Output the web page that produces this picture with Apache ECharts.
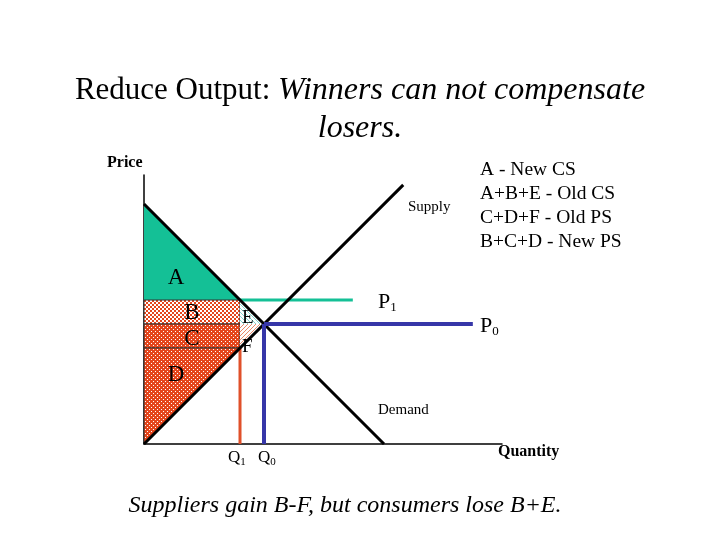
<!DOCTYPE html>
<html>
<head>
<meta charset="utf-8">
<script src="https://cdn.jsdelivr.net/npm/echarts@6/dist/echarts.min.js"></script>
<style>
  html, body { margin: 0; padding: 0; background: #fff; }
  #chart { width: 720px; height: 540px; }
</style>
</head>
<body>
<div id="chart"></div>
<script>
// price / quantity values of the diagram (P = 20 - Q demand, P = Q supply)
const demandLine = [[0, 20], [20, 0]]
const supplyLine = [[0, 0], [21.6, 21.6]]
const p1Line = [[8, 12], [17.4, 12]]
const p0Line = [[10, 10], [27.4, 10]]
const q1Line = [[8, 0], [8, 8]]
const q0Line = [[10, 0], [10, 10]]

// surplus areas
const areaA = [[0, 20], [0, 12], [8, 12]]
const areaB = [[0, 12], [8, 12], [8, 10], [0, 10]]
const areaC = [[0, 10], [8, 10], [8, 8], [0, 8]]
const areaD = [[0, 8], [8, 8], [0, 0]]
const areaE = [[8, 12], [10, 10], [8, 10]]
const areaF = [[8, 10], [10, 10], [8, 8]]

const legendLines = ['A - New CS', 'A+B+E - Old CS', 'C+D+F - Old PS', 'B+C+D - New PS']

const SERIF = '"Liberation Serif", "DejaVu Serif", serif'
const RED = '#e4461c'
const TEAL = '#14c096'
const BLUE = '#3636a8'

function pattern (size, bg, fg, cells) {
  const c = document.createElement('canvas')
  c.width = size
  c.height = size
  const ctx = c.getContext('2d')
  ctx.fillStyle = bg
  ctx.fillRect(0, 0, size, size)
  ctx.fillStyle = fg
  cells.forEach(r => ctx.fillRect(r[0], r[1], r[2], r[3]))
  return { image: c, repeat: 'repeat' }
}

const fillB = pattern(4, '#ffffff', RED, [[0, 0, 2, 2], [2, 2, 2, 2]])
const fillCD = pattern(4, RED, '#ffffff', [[1, 1, 1, 1], [3, 3, 1, 1]])
const fillE = pattern(4, '#ffffff', '#7fd8d0', [[0, 0, 1, 1], [1, 1, 1, 1], [2, 2, 1, 1], [3, 3, 1, 1]])
const fillF = pattern(4, '#ffffff', '#e88a6a', [[3, 0, 1, 1], [2, 1, 1, 1], [1, 2, 1, 1], [0, 3, 1, 1]])

const areas = [
  { pts: areaA, fill: TEAL, stroke: null },
  { pts: areaB, fill: fillB, stroke: '#333' },
  { pts: areaC, fill: fillCD, stroke: '#333' },
  { pts: areaD, fill: fillCD, stroke: '#333' },
  { pts: areaE, fill: fillE, stroke: null },
  { pts: areaF, fill: fillF, stroke: null }
]

function lineSeries (data, color, width) {
  return {
    type: 'line',
    data: data,
    showSymbol: false,
    silent: true,
    lineStyle: { color: color, width: width }
  }
}

function txt (x, y, text, size, extra) {
  return {
    type: 'text',
    x: x,
    y: y,
    z: 100,
    style: Object.assign({
      text: text,
      fontFamily: SERIF,
      fontSize: size,
      fill: '#000',
      verticalAlign: 'middle'
    }, extra || {})
  }
}

function sub (main, idx, size, subSize) {
  return {
    text: `{m|${main}}{s|${idx}}`,
    rich: {
      m: { fontFamily: SERIF, fontSize: size, fill: '#000' },
      s: { fontFamily: SERIF, fontSize: subSize, fill: '#000', padding: [Math.round(size * 0.55), 0, 0, 0] }
    }
  }
}

const chart = echarts.init(document.getElementById('chart'))

chart.setOption({
  animation: false,
  grid: { left: 144, top: 175, width: 358, height: 269 },
  xAxis: {
    type: 'value', min: 0, max: 29.83,
    axisLine: { show: true, lineStyle: { color: '#000', width: 1.5 } },
    axisTick: { show: false }, axisLabel: { show: false }, splitLine: { show: false }
  },
  yAxis: {
    type: 'value', min: 0, max: 22.42,
    axisLine: { show: true, lineStyle: { color: '#000', width: 1.5 } },
    axisTick: { show: false }, axisLabel: { show: false }, splitLine: { show: false }
  },
  series: [
    {
      type: 'custom',
      silent: true,
      data: areas.map((a, i) => [i]),
      renderItem (params, api) {
        const a = areas[params.dataIndex]
        return {
          type: 'polygon',
          shape: { points: a.pts.map(p => api.coord(p)) },
          style: { fill: a.fill, stroke: a.stroke, lineWidth: a.stroke ? 1 : 0 }
        }
      }
    },
    lineSeries(p1Line, TEAL, 3),
    lineSeries(q1Line, '#e0502a', 3),
    lineSeries(demandLine, '#000', 3),
    lineSeries(supplyLine, '#000', 3),
    lineSeries(p0Line, BLUE, 4),
    lineSeries(q0Line, BLUE, 4)
  ],
  graphic: [
    txt(360, 72, '{n|Reduce Output: }{i|Winners can not compensate}\n{i|losers.}', 32, {
      align: 'center',
      verticalAlign: 'top',
      rich: {
        n: { fontFamily: SERIF, fontSize: 31, lineHeight: 38 },
        i: { fontFamily: SERIF, fontSize: 32, lineHeight: 38, fontStyle: 'italic' }
      }
    }),
    txt(107, 163, 'Price', 16, { fontWeight: 'bold' }),
    txt(408, 207, 'Supply', 15),
    txt(378, 410, 'Demand', 15),
    txt(498, 452, 'Quantity', 16, { fontWeight: 'bold' }),
    txt(176, 278, 'A', 23, { align: 'center' }),
    txt(192, 313, 'B', 23, { align: 'center' }),
    txt(192, 339, 'C', 23, { align: 'center' }),
    txt(176, 375, 'D', 23, { align: 'center' }),
    txt(242, 318, 'E', 19),
    txt(242, 347, 'F', 19),
    txt(378, 302, null, 20, sub('P', '1', 22, 13)),
    txt(480, 326, null, 20, sub('P', '0', 22, 13)),
    txt(228, 458, null, 16, sub('Q', '1', 17, 11)),
    txt(258, 458, null, 16, sub('Q', '0', 17, 11)),
    txt(480, 158, legendLines.join('\n'), 19.5, { verticalAlign: 'top', lineHeight: 24 }),
    txt(345, 506, 'Suppliers gain B-F, but consumers lose B+E.', 24, { align: 'center', fontStyle: 'italic' })
  ]
})
</script>
</body>
</html>
